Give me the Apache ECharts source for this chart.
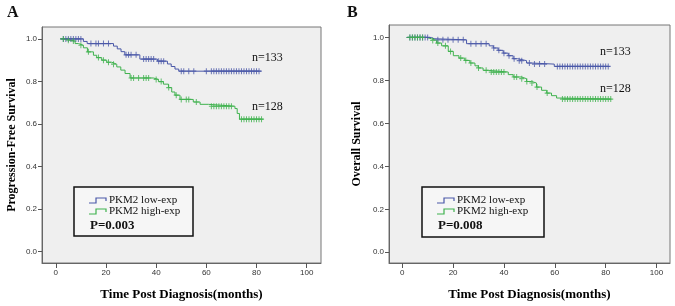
<!DOCTYPE html>
<html>
<head>
<meta charset="utf-8">
<script src="https://cdn.jsdelivr.net/npm/echarts@6/dist/echarts.min.js"></script>
<style>
  html, body { margin: 0; padding: 0; background: #fff; }
  #chart { width: 675px; height: 306px; }
</style>
</head>
<body>
<div id="chart"></div>
<script>
// Panel A: progression-free survival (Kaplan-Meier step points + censor times)
const aLowTime = [1.7, 11, 12.5, 23, 24.5, 26, 27.5, 33.5, 40.5, 44.5, 46, 47.5, 49, 82];
const aLowSurv = [1.0, 0.988, 0.978, 0.966, 0.953, 0.94, 0.925, 0.905, 0.895, 0.882, 0.87, 0.858, 0.848, 0.848];
const aLowCens = [3, 4, 5, 6, 7, 8, 9, 10, 14, 16, 17, 19, 21, 28, 29, 30, 32, 35, 36, 37, 38, 39, 41, 42, 43,
  50, 51, 53, 55, 60, 62, 63, 64, 65, 66, 67, 68, 69, 70, 71, 72, 73, 74, 75, 76, 77, 78, 79, 80, 81];

const aHighTime = [1.7, 3.7, 5.7, 7.7, 9, 11, 12.6, 15, 16.3, 18.3, 20.3, 22.3, 24.3, 25.9, 27.6, 29.6, 38.9,
  40.9, 42.9, 44.9, 46.2, 47.5, 49.5, 54.8, 57.5, 60.8, 71.4, 72.3, 73.2, 82.7];
const aHighSurv = [1.0, 0.994, 0.99, 0.978, 0.97, 0.958, 0.939, 0.923, 0.912, 0.9, 0.89, 0.881, 0.868, 0.853,
  0.837, 0.816, 0.809, 0.799, 0.787, 0.771, 0.75, 0.735, 0.715, 0.703, 0.692, 0.683, 0.672, 0.649, 0.622, 0.622];
const aHighCens = [3, 5, 7, 10, 13, 17, 19, 21, 23, 30, 31, 33, 35, 36, 37, 40, 42, 45, 48, 50, 52, 53, 56,
  62, 63, 64, 65, 66, 67, 68, 69, 70, 74, 75, 76, 77, 78, 79, 80, 81, 82];

// Panel B: overall survival
const bLowTime = [1.7, 11.5, 12.5, 25.3, 34.2, 35.8, 37.7, 39.7, 41.7, 43.6, 45.4, 48.9, 50.9, 59.8, 81.6];
const bLowSurv = [1.0, 0.994, 0.989, 0.971, 0.961, 0.951, 0.94, 0.927, 0.915, 0.901, 0.892, 0.881, 0.876, 0.865, 0.865];
const bLowCens = [3, 4, 5, 6, 7, 8, 9, 10, 14, 16, 18, 20, 22, 24, 27, 29, 31, 33, 36, 38, 40, 42, 44, 46, 47,
  50, 52, 54, 56, 61, 62, 63, 64, 65, 66, 67, 68, 69, 70, 71, 72, 73, 74, 75, 76, 77, 78, 79, 80, 81];

const bHighTime = [1.7, 9.5, 11.5, 13.5, 15.5, 18.1, 20.1, 22.3, 24.6, 26.6, 28.6, 29.9, 31.8, 33.8, 41.7,
  43.6, 46.9, 48.9, 50.9, 52.8, 54.8, 56.8, 58.7, 60.7, 62, 82.3];
const bHighSurv = [1.0, 0.994, 0.986, 0.974, 0.961, 0.935, 0.915, 0.904, 0.893, 0.881, 0.868, 0.858, 0.847,
  0.839, 0.827, 0.816, 0.808, 0.795, 0.788, 0.769, 0.754, 0.741, 0.729, 0.718, 0.713, 0.713];
const bHighCens = [3, 4, 5, 6, 7, 8, 12, 14, 17, 19, 23, 25, 27, 30, 33, 35, 36, 37, 38, 39, 40, 44, 45, 47,
  49, 51, 53, 57, 63, 64, 65, 66, 67, 68, 69, 70, 71, 72, 73, 74, 75, 76, 77, 78, 79, 80, 81, 82];

const xTicks = [0, 20, 40, 60, 80, 100];
const yTicks = [0, 0.2, 0.4, 0.6, 0.8, 1.0];
const groupNames = ['PKM2 low-exp', 'PKM2 high-exp'];
const nLabels = ['n=133', 'n=128'];
const pValues = ['P=0.003', 'P=0.008'];
const yTitles = ['Progression-Free Survival', 'Overall Survival'];
const xTitle = 'Time Post Diagnosis(months)';

const BLUE = '#4a58a8';
const GREEN = '#3fb24e';
const SERIF = '"Liberation Serif", "DejaVu Serif", serif';
const SANS = '"Liberation Sans", Arial, sans-serif';
const PLUS = 'path://M2,0 L3,0 L3,2 L5,2 L5,3 L3,3 L3,5 L2,5 L2,3 L0,3 L0,2 L2,2 Z';

function steps(times, surv) {
  return times.map((t, i) => [t, surv[i]]);
}
// survival value at a censor time = the step that is current then
function survAt(times, surv, t) {
  let s = surv[0];
  for (let i = 0; i < times.length; i++) if (times[i] <= t) s = surv[i];
  return s;
}
function censors(times, surv, cens) {
  return cens.map(t => [t, survAt(times, surv, t)]);
}

const grids = [
  { left: 42, top: 27, width: 279, height: 236 },
  { left: 389, top: 25, width: 281, height: 238 }
];
const xRanges = [[-5.5, 105.7], [-5.2, 105.3]];
const yRanges = [[-0.055, 1.056], [-0.05, 1.058]];
const yGaps = [24, 26];

function xAxisFor(i) {
  return {
    gridIndex: i, type: 'value', min: xRanges[i][0], max: xRanges[i][1],
    name: xTitle, nameLocation: 'middle', nameGap: 25,
    nameTextStyle: { fontFamily: SERIF, fontWeight: 'bold', fontSize: 13, color: '#000' },
    axisLine: { show: true, onZero: false, lineStyle: { color: '#666', width: 1 } },
    axisTick: { show: true, length: 5, customValues: xTicks, lineStyle: { color: '#555' } },
    axisLabel: { customValues: xTicks, fontFamily: SANS, fontSize: 8, color: '#333', margin: 6 },
    splitLine: { show: false }
  };
}
function yAxisFor(i) {
  return {
    gridIndex: i, type: 'value', min: yRanges[i][0], max: yRanges[i][1],
    name: yTitles[i], nameLocation: 'middle', nameGap: yGaps[i], nameRotate: 90,
    nameTextStyle: { fontFamily: SERIF, fontWeight: 'bold', fontSize: 12, color: '#000' },
    axisLine: { show: true, onZero: false, lineStyle: { color: '#666', width: 1 } },
    axisTick: { show: true, length: 4, customValues: yTicks, lineStyle: { color: '#555' } },
    axisLabel: { customValues: yTicks, fontFamily: SANS, fontSize: 8, color: '#333', margin: 5,
      formatter: v => v.toFixed(1) },
    splitLine: { show: false }
  };
}
function kmSeries(i, name, color, times, surv, cens) {
  return [
    { name, type: 'line', xAxisIndex: i, yAxisIndex: i, step: 'end', showSymbol: false,
      data: steps(times, surv), lineStyle: { color, width: 1 }, itemStyle: { color }, z: 3, silent: true },
    { name, type: 'scatter', xAxisIndex: i, yAxisIndex: i, symbol: PLUS, symbolSize: [5, 6],
      data: censors(times, surv, cens), itemStyle: { color }, z: 4, silent: true }
  ];
}

// legend box drawn as decoration, with a step icon per group
function legendBox(x, y, w, h, p) {
  const icon = (yy, color) => ({
    type: 'polyline', z: 10,
    shape: { points: [[x + 15, yy + 3], [x + 22, yy + 3], [x + 22, yy - 2], [x + 32, yy - 2], [x + 32, yy + 1]] },
    style: { stroke: color, lineWidth: 1.2, fill: null }
  });
  const txt = (tx, ty, text, font) => ({
    type: 'text', z: 10,
    style: { x: tx, y: ty, text, font, fill: '#111', textVerticalAlign: 'middle' }
  });
  return [
    { type: 'rect', z: 9, shape: { x, y, width: w, height: h },
      style: { fill: '#f6f6f6', stroke: '#111', lineWidth: 1.5 } },
    icon(y + 13, BLUE), icon(y + 24, GREEN),
    txt(x + 35, y + 13, groupNames[0], '11px ' + SERIF),
    txt(x + 35, y + 24, groupNames[1], '11px ' + SERIF),
    txt(x + 16, y + 39, p, 'bold 13px ' + SERIF)
  ];
}
function label(x, y, text, font) {
  return { type: 'text', z: 10, style: { x, y, text, font, fill: '#111', textVerticalAlign: 'middle' } };
}

const chart = echarts.init(document.getElementById('chart'), null, { renderer: 'canvas' });
chart.setOption({
  animation: false,
  backgroundColor: '#fff',
  grid: grids.map(g => Object.assign({ show: true, backgroundColor: '#efefef', borderColor: '#777', borderWidth: 1 }, g)),
  xAxis: [xAxisFor(0), xAxisFor(1)],
  yAxis: [yAxisFor(0), yAxisFor(1)],
  series: [
    ...kmSeries(0, groupNames[0], BLUE, aLowTime, aLowSurv, aLowCens),
    ...kmSeries(0, groupNames[1], GREEN, aHighTime, aHighSurv, aHighCens),
    ...kmSeries(1, groupNames[0], BLUE, bLowTime, bLowSurv, bLowCens),
    ...kmSeries(1, groupNames[1], GREEN, bHighTime, bHighSurv, bHighCens)
  ],
  graphic: [
    label(7, 13, 'A', 'bold 16px ' + SERIF),
    label(347, 13, 'B', 'bold 16px ' + SERIF),
    label(252, 58, nLabels[0], '12px ' + SERIF),
    label(252, 107, nLabels[1], '12px ' + SERIF),
    label(600, 52, nLabels[0], '12px ' + SERIF),
    label(600, 89, nLabels[1], '12px ' + SERIF),
    ...legendBox(74, 187, 119, 49, pValues[0]),
    ...legendBox(422, 187, 122, 50, pValues[1])
  ]
});
</script>
</body>
</html>
